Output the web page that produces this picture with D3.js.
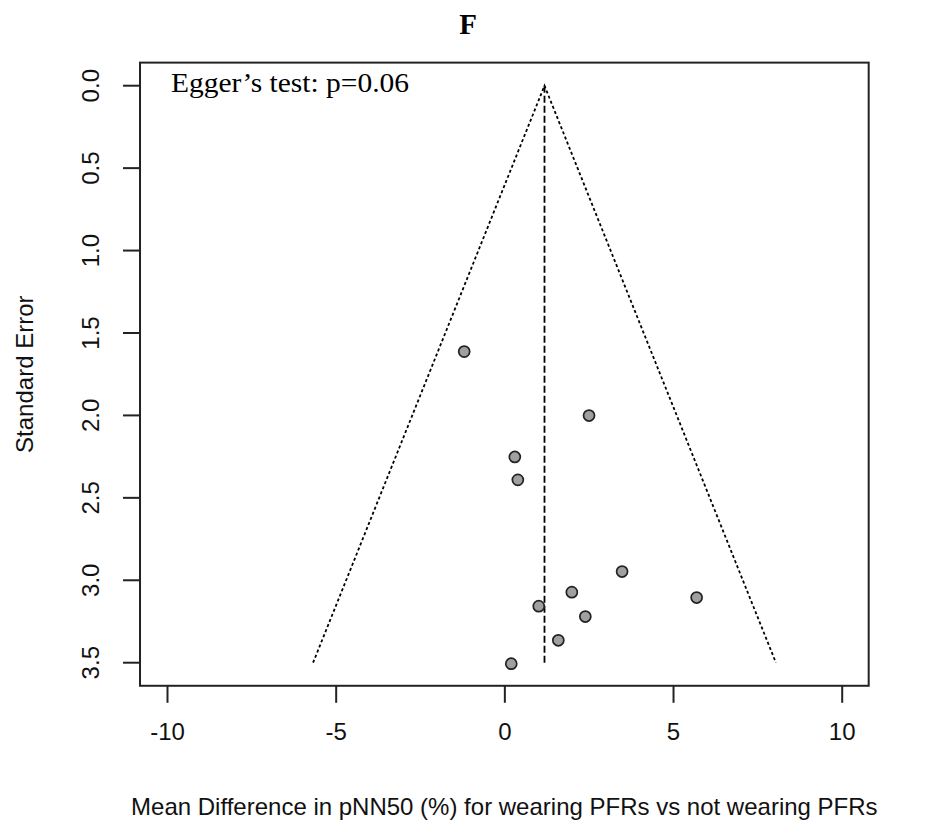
<!DOCTYPE html>
<html>
<head>
<meta charset="utf-8">
<script src="https://cdn.jsdelivr.net/npm/d3@7"></script>
<style>
  html, body { margin: 0; padding: 0; background: #fff; }
  svg { display: block; }
</style>
</head>
<body>
<svg id="chart" width="930" height="824"></svg>
<script>
// ---- data ----
const meanDiff = [-1.19, 2.51, 0.31, 0.40, 3.49, 2.00, 5.70, 1.02, 2.40, 1.60, 0.205];
const stdErr   = [1.613, 2.001, 2.252, 2.391, 2.947, 3.072, 3.105, 3.157, 3.22, 3.364, 3.506];
const pooled = 1.19;
const seMax = 3.5;
const xTicks = [-10, -5, 0, 5, 10];
const yTicks = [0, 0.5, 1, 1.5, 2, 2.5, 3, 3.5];
const titleText = "F";
const noteText = "Egger\u2019s test: p=0.06";
const xTitle = "Mean Difference in pNN50 (%) for wearing PFRs vs not wearing PFRs";
const yTitle = "Standard Error";

const svg = d3.select("#chart");
const x = d3.scaleLinear().domain([-10, 10]).range([167, 841.7]);
const y = d3.scaleLinear().domain([0, 3.5]).range([85.7, 662.7]);
const pad = 0.04;
const xb = [x(-10 - 20 * pad), x(10 + 20 * pad)];
const yb = [y(0 - 3.5 * pad), y(3.5 + 3.5 * pad)];

const axisFont = "'Liberation Sans', Arial, sans-serif";
const serif = "'Liberation Serif', 'Times New Roman', serif";
const ink = "#222";

// title
svg.append("text").attr("x", 468).attr("y", 34)
  .attr("text-anchor", "middle").attr("font-family", serif)
  .attr("font-weight", "bold").attr("font-size", 29).attr("fill", "#000")
  .text(titleText);

// funnel lines
const funnel = d3.line().x(d => x(d[0])).y(d => y(d[1]));
svg.append("path")
  .attr("d", funnel([[pooled - 1.96 * seMax, seMax], [pooled, 0], [pooled + 1.96 * seMax, seMax]]))
  .attr("fill", "none").attr("stroke", "#000").attr("stroke-width", 1.8)
  .attr("stroke-dasharray", "3,2.5");

// pooled estimate line
svg.append("line")
  .attr("x1", x(pooled)).attr("x2", x(pooled))
  .attr("y1", y(0)).attr("y2", y(seMax))
  .attr("stroke", "#000").attr("stroke-width", 1.8)
  .attr("stroke-dasharray", "7,3");

// points
svg.append("g").selectAll("circle")
  .data(meanDiff.map((m, i) => [m, stdErr[i]]))
  .join("circle")
  .attr("cx", d => x(d[0])).attr("cy", d => y(d[1]))
  .attr("r", 5.5)
  .attr("fill", "#a0a0a0").attr("stroke", "#222").attr("stroke-width", 1.7);

// box
svg.append("rect")
  .attr("x", xb[0]).attr("y", yb[0])
  .attr("width", xb[1] - xb[0]).attr("height", yb[1] - yb[0])
  .attr("fill", "none").attr("stroke", ink).attr("stroke-width", 2);

// x axis
const xAxis = d3.axisBottom(x).tickValues(xTicks).tickSize(17).tickSizeOuter(0)
  .tickPadding(20).tickFormat(d => String(d));
const gx = svg.append("g").attr("transform", `translate(0,${yb[1]})`).call(xAxis);
gx.select(".domain").remove();
gx.selectAll(".tick line").attr("stroke", ink).attr("stroke-width", 2);
gx.selectAll(".tick text").attr("font-family", axisFont).attr("font-size", 24)
  .attr("fill", "#111");

// y axis (labels parallel to axis)
const gy = svg.append("g").attr("transform", `translate(${xb[0]},0)`);
gy.selectAll("line").data(yTicks).join("line")
  .attr("x1", -17).attr("x2", 0)
  .attr("y1", d => y(d)).attr("y2", d => y(d))
  .attr("stroke", ink).attr("stroke-width", 2);
gy.selectAll("text").data(yTicks).join("text")
  .attr("transform", d => `translate(-41,${y(d)}) rotate(-90)`)
  .attr("text-anchor", "middle")
  .attr("font-family", axisFont).attr("font-size", 24).attr("fill", "#111")
  .text(d3.format(".1f"));

// axis titles
svg.append("text")
  .attr("transform", `translate(33,${(yb[0] + yb[1]) / 2}) rotate(-90)`)
  .attr("text-anchor", "middle").attr("font-family", axisFont)
  .attr("font-size", 24).attr("fill", "#111").text(yTitle);
svg.append("text")
  .attr("x", (xb[0] + xb[1]) / 2).attr("y", yb[1] + 129)
  .attr("text-anchor", "middle").attr("font-family", axisFont)
  .attr("font-size", 24).attr("fill", "#111").text(xTitle);

// Egger note
svg.append("text").attr("x", 171).attr("y", 92)
  .attr("font-family", serif).attr("font-size", 28).attr("fill", "#000")
  .attr("textLength", 238).attr("lengthAdjust", "spacingAndGlyphs")
  .text(noteText);
</script>
</body>
</html>
